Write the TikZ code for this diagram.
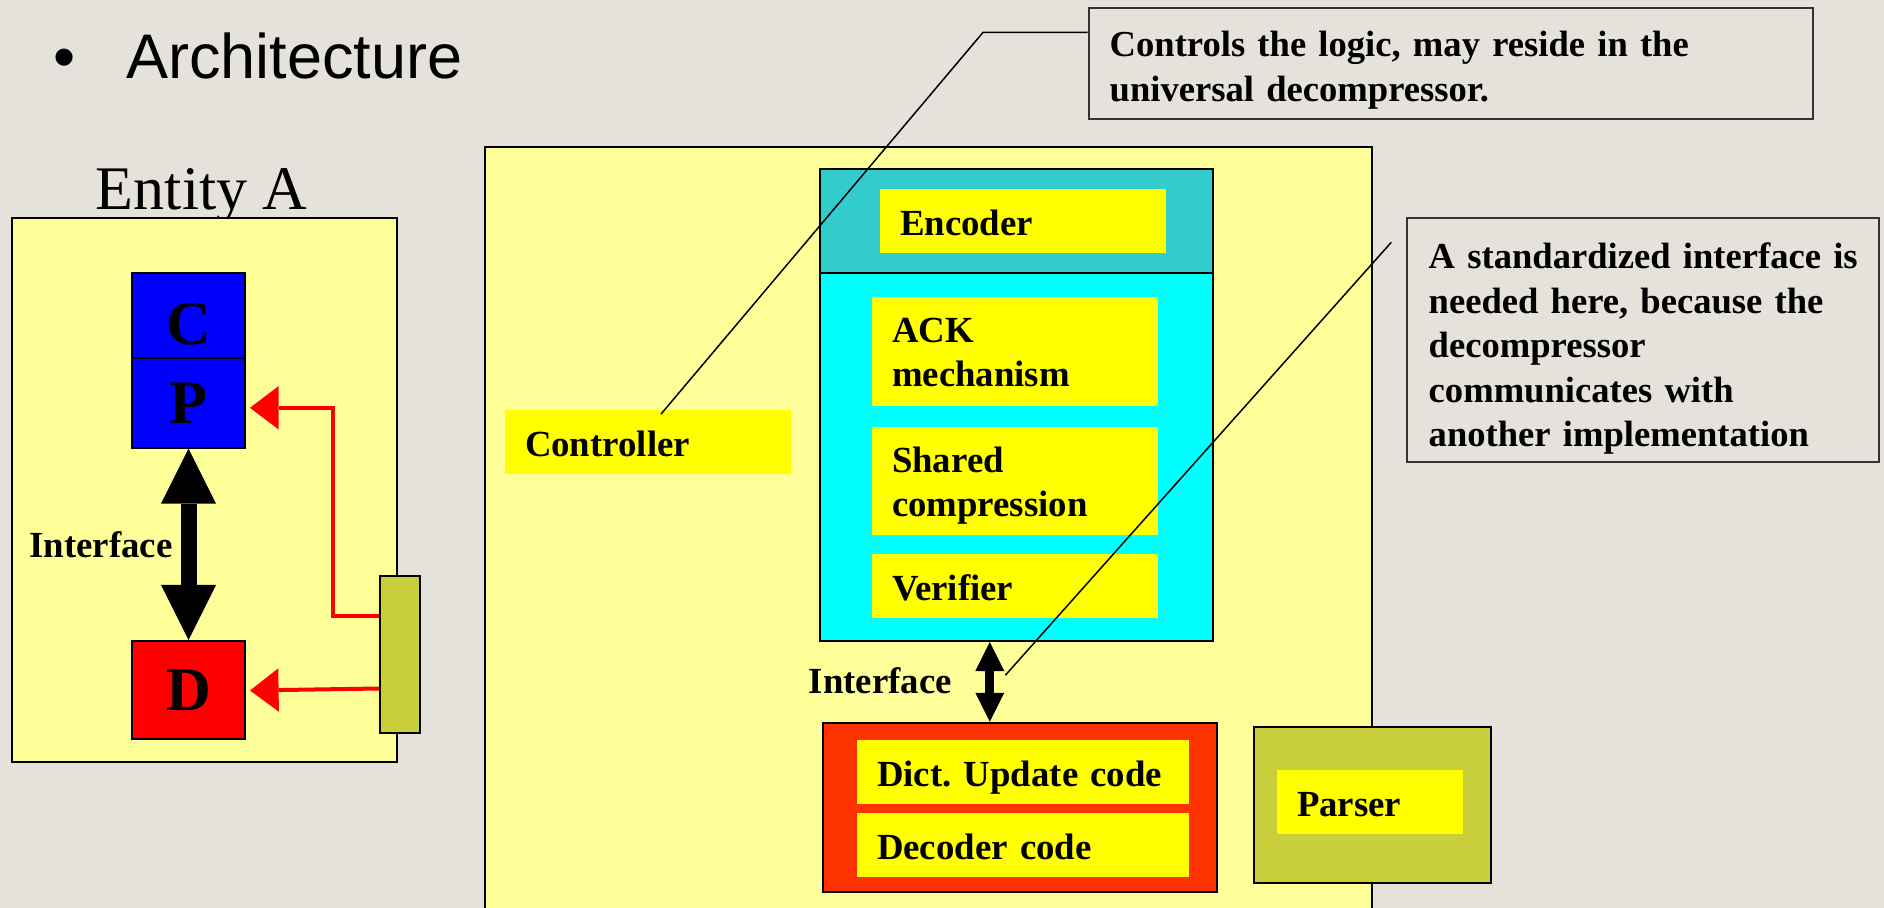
\documentclass[tikz,border=0pt]{standalone}
\usepackage{fontspec}
\setmainfont{Liberation Serif}
\newfontfamily\arialf{Liberation Sans}
\usetikzlibrary{arrows.meta,calc}
\definecolor{bg}{HTML}{E5E2DB}
\definecolor{lyellow}{HTML}{FFFF99}
\definecolor{byellow}{HTML}{FFFF00}
\definecolor{tealc}{HTML}{33CCCC}
\definecolor{cyanc}{HTML}{00FFFF}
\definecolor{decred}{HTML}{FF3300}
\definecolor{olivec}{HTML}{C8CF3A}
\definecolor{bluec}{HTML}{0000FF}
\definecolor{redc}{HTML}{FF0000}
\definecolor{callborder}{HTML}{333333}
\newcommand\lab{\fontsize{18.4pt}{22pt}\selectfont\bfseries\frenchspacing}
\newcommand\calltxt{\fontsize{18.3pt}{22.3pt}\selectfont\bfseries\frenchspacing}
\newcommand\biglet{\fontsize{31pt}{36pt}\selectfont\bfseries}
\frenchspacing
\begin{document}
\begin{tikzpicture}[x=0.5pt,y=-0.5pt,
  frame/.style={draw=black,line width=1pt,inner sep=0pt,anchor=center},
  ybox/.style={fill=byellow,inner xsep=10pt,inner ysep=0pt,align=left,font=\lab,text height=14.3pt,text depth=0pt,anchor=center},
  callout/.style={draw=callborder,line width=1pt,fill=bg,inner ysep=0pt,align=left,font=\calltxt,text height=14.3pt,anchor=center},
  freetext/.style={inner sep=0pt,font=\lab,anchor=base west},
  letter/.style={font=\biglet,text=black},
  redarr/.style={draw=redc,line width=2pt,-{Triangle[length=14.3pt,width=21.7pt,line width=0pt]}},
  bigdarr/.style={draw=black,line width=8pt,{Triangle[length=27.5pt,width=27.5pt,line width=0pt]}-{Triangle[length=27.5pt,width=27.5pt,line width=0pt]}},
  smalldarr/.style={draw=black,line width=4.5pt,{Triangle[length=14.5pt,width=14.5pt,line width=0pt]}-{Triangle[length=14.5pt,width=14.5pt,line width=0pt]}},
  leader/.style={draw=black,line width=0.75pt}
]
\useasboundingbox (0,0) rectangle (1884,908);
\clip (0,0) rectangle (1884,908);
\fill[bg] (0,0) rectangle (1884,908);

% title
\node[anchor=base,inner sep=0pt,font=\arialf\fontsize{31.5pt}{36pt}\selectfont] (bul) at (64.3,79) {•};
\node[anchor=base west,inner sep=0pt,font=\arialf\fontsize{31.5pt}{36pt}\selectfont] (arch) at (125.7,79) {Architecture};

% Entity A
\node[anchor=base,inner sep=0pt,font=\fontsize{31pt}{36pt}\selectfont] (enttitle) at (201.8,209.3) {Entity A};
\node[frame,fill=lyellow,minimum width=192.35pt,minimum height=272pt] (entity) at (204.35,490) {};
\node[frame,fill=bluec,minimum width=56.5pt,minimum height=42.7pt,letter,text height=28.5pt,text depth=0pt] (C) at (188.5,315.7) {C};
\node[frame,fill=bluec,minimum width=56.5pt,minimum height=44.65pt,letter] (P) at (188.5,403.05) {P};
\node[frame,fill=redc,minimum width=56.5pt,minimum height=49pt,letter] (D) at (188.5,690) {D};
\node[frame,fill=olivec,minimum width=20pt,minimum height=78.45pt] (side) at (400,654.75) {};
\draw[bigdarr] (P.south) -- (D.north);
\node[freetext] (if1) at (29,557.3) {Interface};
\draw[redarr] ($(side.west)+(0,-38.9)$) -| ($(P.east)+(87,4.75)$) -- ($(P.east)+(4,4.75)$);
\draw[redarr] ($(side.west)+(0,33.75)$) -- ($(D.east)+(4,0.5)$);

% big box
\node[frame,fill=lyellow,minimum width=443.45pt,minimum height=406.35pt] (big) at (928.05,553.65) {};
\node[frame,fill=tealc,minimum width=196.3pt,minimum height=51.9pt] (enctop) at (1016.7,220.8) {};
\node[frame,fill=cyanc,minimum width=196.3pt,minimum height=184.15pt] (encbot) at (1016.7,456.85) {};
\node[ybox,text width=123pt,minimum height=32pt] (encoder) at (1023,221) {Encoder};
\node[ybox,text width=123pt,minimum height=54.5pt,text depth=23.6pt] (ack) at (1015,351.5) {ACK\\mechanism};
\node[ybox,text width=123pt,minimum height=54pt,text depth=22.3pt] (shared) at (1015,481) {Shared\\compression};
\node[ybox,text width=123pt,minimum height=31.75pt] (verifier) at (1015,586) {Verifier};
\node[ybox,text width=123pt,minimum height=32pt] (ctrl) at (648,442) {Controller};

\node[frame,fill=decred,minimum width=196.6pt,minimum height=84.45pt] (decout) at (1019.9,807.25) {};
\node[ybox,text width=146pt,minimum height=32pt] (dict) at (1023,772) {\mbox{Dict. Update code}};
\node[ybox,text width=146pt,minimum height=32pt] (deccode) at (1023,845) {\mbox{Decoder code}};

\node[frame,fill=olivec,minimum width=118.5pt,minimum height=78.15pt] (parsout) at (1372.2,804.85) {};
\node[ybox,text width=73pt,minimum height=32pt] (parser) at (1370,802) {Parser};

\coordinate (ifx) at (989.8,680);
\draw[smalldarr] (encbot.south -| ifx) -- (decout.north -| ifx);
\node[freetext] (if2) at (808.4,693.4) {Interface};

% callouts
\node[callout,minimum width=362.3pt,minimum height=55.35pt,text width=341.3pt,inner xsep=10.5pt,text depth=21.25pt] (call1) at (1451,63.65) {\mbox{Controls the logic, may reside in the}\\\mbox{universal decompressor.}};
\node[callout,minimum width=236.15pt,minimum height=122.3pt,text width=214.15pt,inner xsep=11pt,text depth=85.7pt] (call2) at (1642.85,340) {\mbox{A standardized interface is}\\\mbox{needed here, because the}\\\mbox{decompressor}\\\mbox{communicates with}\\\mbox{another implementation}};

\coordinate (bend1) at (983,32.4);
\draw[leader] ($(ctrl.north)+(13,4.5)$) -- (bend1) -- ($(call1.west)+(0,-31.25)$);
\coordinate (lead2a) at (1005.3,675.3);
\coordinate (lead2b) at (1391.3,242.3);
\draw[leader] (lead2a) -- (lead2b);
\end{tikzpicture}
\end{document}
